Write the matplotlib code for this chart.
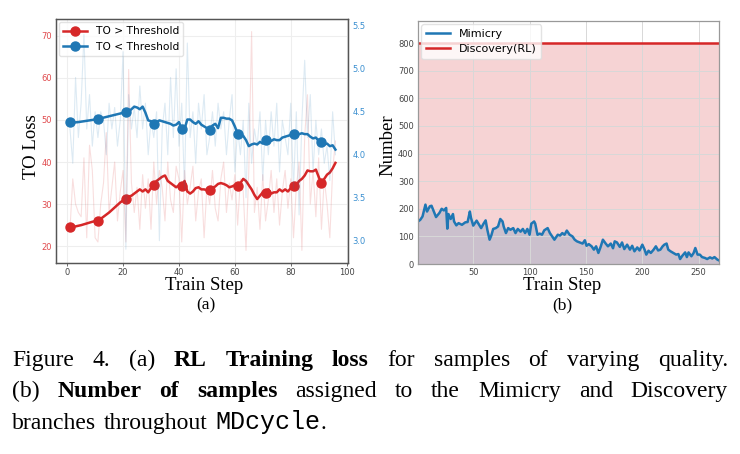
import numpy as np
import matplotlib
matplotlib.use("Agg")
import matplotlib.pyplot as plt

# ---- (a) TO loss, steps 1..96 ----
steps_a = np.arange(1, 97)

red_smooth = [24.5, 24.55, 24.7, 24.85, 25.0, 25.2, 25.4, 25.6, 25.8, 25.95,
              26.1, 26.5, 27.0, 27.5, 28.0, 28.6, 29.2, 29.8, 30.4, 30.9,
              31.3, 31.8, 32.0, 32.5, 33.0, 33.5, 33.0, 33.5, 32.8, 33.8,
              34.5, 35.5, 36.0, 36.5, 36.8, 35.5, 35.0, 34.5, 34.0, 34.5,
              34.2, 35.5, 33.0, 32.5, 33.0, 33.8, 34.0, 33.5, 33.5, 33.3,
              33.4, 33.8, 34.2, 34.8, 35.0, 34.8, 34.5, 34.0, 34.2, 34.5,
              34.2, 35.0, 36.0, 35.5, 34.5, 33.5, 32.2, 31.2, 32.0, 32.8,
              32.7, 33.5, 32.5, 32.8, 32.8, 33.5, 33.0, 33.5, 33.0, 33.8,
              34.2, 34.5, 35.5, 36.0, 36.8, 38.0, 37.8, 37.8, 38.2, 36.5,
              34.9, 36.0, 37.0, 37.5, 38.5, 39.8]

blue_smooth = [4.377, 4.377, 4.377, 4.38, 4.385, 4.39, 4.395, 4.40, 4.405, 4.41,
               4.415, 4.425, 4.432, 4.44, 4.448, 4.456, 4.464, 4.472, 4.48, 4.488,
               4.497, 4.50, 4.53, 4.56, 4.55, 4.53, 4.56, 4.49, 4.40, 4.39,
               4.357, 4.38, 4.40, 4.39, 4.38, 4.37, 4.36, 4.34, 4.35, 4.38,
               4.30, 4.30, 4.41, 4.41, 4.38, 4.36, 4.39, 4.35, 4.33, 4.31,
               4.29, 4.34, 4.36, 4.31, 4.43, 4.43, 4.42, 4.42, 4.40, 4.33,
               4.245, 4.24, 4.22, 4.17, 4.10, 4.12, 4.13, 4.12, 4.15, 4.13,
               4.167, 4.17, 4.16, 4.18, 4.17, 4.17, 4.20, 4.21, 4.22, 4.23,
               4.24, 4.25, 4.24, 4.25, 4.24, 4.24, 4.21, 4.19, 4.20, 4.16,
               4.15, 4.12, 4.13, 4.10, 4.11, 4.06]

red_raw = [24, 36, 30, 28, 27, 41, 22, 44, 38, 22,
           21, 30, 35, 47, 28, 34, 40, 26, 33, 38,
           21, 62, 35, 28, 34, 24, 37, 29, 36, 24,
           40, 30, 38, 34, 26, 40, 31, 28, 39, 36,
           21, 38, 30, 34, 39, 26, 33, 36, 22, 34,
           30, 38, 29, 26, 36, 40, 28, 35, 31, 37,
           25, 36, 33, 19, 38, 71, 28, 34, 24, 37,
           26, 31, 38, 28, 36, 25, 33, 38, 29, 36,
           22, 34, 40, 19, 46, 56, 30, 38, 27, 41,
           24, 36, 30, 22, 38, 45]

blue_raw = [4.3, 3.9, 4.9, 4.2, 4.6, 5.4, 4.3, 4.7, 4.1, 4.5,
            4.2, 4.5, 4.4, 4.0, 4.6, 4.3, 4.55, 4.1, 4.4, 5.2,
            2.9, 4.7, 4.3, 4.55, 4.2, 4.8, 4.3, 4.6, 4.0, 4.4,
            4.2, 4.5, 3.0, 4.3, 4.6, 4.0, 4.9, 4.2, 5.0, 4.1,
            4.6, 3.6, 5.3, 4.2, 4.5, 3.9, 4.6, 4.3, 4.7, 4.0,
            4.2, 4.5, 4.1, 4.6, 4.3, 4.5, 4.0, 4.4, 4.7, 3.8,
            4.3, 4.0, 4.4, 3.5, 4.6, 3.9, 4.3, 4.1, 4.5, 3.7,
            4.4, 4.0, 4.5, 4.1, 4.6, 3.8, 4.4, 4.2, 4.0, 4.6,
            3.6, 4.5, 3.3, 4.4, 5.1, 4.2, 4.7, 3.8, 4.4, 4.0,
            4.3, 3.9, 4.1, 3.7, 4.5, 4.0]

marker_every = 10

# ---- (b) number of samples ----
mim_steps = [1, 3, 5, 7.6, 9, 11.5, 13, 15, 17, 20, 22, 24, 26, 27, 28, 30, 32, 33,
             35, 37, 40, 43, 45, 47, 48, 50, 52, 53, 57, 59, 61, 62.5, 64.5, 66,
             67.7, 70, 72, 74, 76, 77, 79, 81, 83, 85.5, 87.5, 89.5, 92, 94, 96,
             98, 100, 101.5, 104, 105, 107, 109, 111, 113, 116, 118, 120, 122,
             125, 127, 129, 131, 133, 135.5, 138, 140, 142, 144.5, 147, 149,
             150.5, 152.5, 155, 157, 159, 161, 163, 165, 167.5, 169.5, 172, 174,
             175.5, 177.5, 180, 182, 184, 186.5, 189, 191, 193, 195.5, 197.5,
             200, 202, 203.5, 205.5, 207.5, 210, 212, 214, 216, 218, 219.5,
             221.5, 223, 225, 227.5, 230, 232, 233.5, 235.5, 238, 239.5, 241,
             243.5, 245.5, 247, 249, 251, 253, 255.5, 257.5, 260, 262, 264,
             266.5, 268]
mim_vals = [154, 160, 172, 215, 190, 209, 211, 190, 170, 185, 200, 194, 203, 128,
            181, 163, 181, 154, 140, 148, 142, 151, 152, 190, 167, 139, 151, 157,
            130, 145, 158, 124, 88, 103, 127, 130, 136, 163, 154, 136, 112, 130,
            124, 130, 112, 127, 117, 127, 112, 127, 106, 146, 154, 146, 106, 110,
            106, 122, 130, 112, 100, 88, 106, 103, 112, 106, 121, 106, 100, 88,
            82, 78, 74, 86, 66, 72, 64, 52, 64, 40, 62, 88, 74, 64, 74, 57, 82,
            78, 62, 78, 54, 70, 52, 66, 46, 60, 49, 70, 52, 34, 48, 40, 52, 64,
            49, 52, 64, 70, 74, 52, 46, 40, 34, 36, 18, 30, 42, 25, 42, 28, 40,
            58, 34, 34, 25, 22, 18, 24, 20, 25, 16, 13]
discovery_level = 800

RED = "#d62728"
BLUE = "#1f77b4"
SERIF = "Liberation Serif"

plt.rcParams["font.family"] = "DejaVu Sans"
fig = plt.figure(figsize=(7.4, 4.54), dpi=100)

# ---------------- (a) ----------------
ax = fig.add_axes([56 / 740, 1 - 263 / 454, 292 / 740, 244 / 454])
ax2 = ax.twinx()

ax.plot(steps_a, red_raw, color=RED, lw=0.8, alpha=0.15)
ax2.plot(steps_a, blue_raw, color=BLUE, lw=0.8, alpha=0.15)
l1, = ax.plot(steps_a, red_smooth, color=RED, lw=1.8, marker="o", ms=6.5,
              markevery=marker_every, label="TO > Threshold")
l2, = ax2.plot(steps_a, blue_smooth, color=BLUE, lw=1.8, marker="o", ms=6.5,
               markevery=marker_every, label="TO < Threshold")

ax.set_xlim(-4, 100.5)
ax.set_ylim(16, 74)
ax2.set_ylim(2.74, 5.58)
ax.set_xticks([0, 20, 40, 60, 80, 100])
ax.set_yticks([20, 30, 40, 50, 60, 70])
ax2.set_yticks([3.0, 3.5, 4.0, 4.5, 5.0, 5.5])
ax.grid(True, color="#eeeeee", lw=0.8)
ax.set_axisbelow(True)
ax.tick_params(axis="x", labelsize=6, colors="#555555", labelcolor="#444444",
               length=2, width=0.6, pad=1.5)
ax.tick_params(axis="y", labelsize=6, colors="#555555", labelcolor="#e04a4d",
               length=0, pad=3)
ax2.tick_params(axis="y", labelsize=6, colors="#555555", labelcolor="#3a8fd0",
                length=0, pad=3)
for a in (ax, ax2):
    for s in a.spines.values():
        s.set_color("#555555")
        s.set_linewidth(0.9)
ax.legend(handles=[l1, l2], loc="upper left", fontsize=7.7, framealpha=0.8,
          edgecolor="#dddddd", borderaxespad=0.3, handlelength=2.2)

fig.text(204 / 740, 1 - 285 / 454, "Train Step", family=SERIF, fontsize=13.5,
         ha="center", va="center")
fig.text(206 / 740, 1 - 305 / 454, "(a)", family=SERIF, fontsize=12.5,
         ha="center", va="center")
fig.text(32 / 740, 1 - 147 / 454, "TO Loss", family=SERIF, fontsize=13.5,
         ha="center", va="center", rotation=90)

# ---------------- (b) ----------------
bx = fig.add_axes([418 / 740, 1 - 264 / 454, 301 / 740, 243 / 454])
xs = [mim_steps[0], mim_steps[-1]]
bx.fill_between(xs, 0, discovery_level, color=RED, alpha=0.2, lw=0)
bx.fill_between(mim_steps, 0, mim_vals, color=BLUE, alpha=0.2, lw=0)
bx.plot(mim_steps, mim_vals, color=BLUE, lw=1.8, label="Mimicry")
bx.plot(xs, [discovery_level, discovery_level], color=RED, lw=1.8,
        label="Discovery(RL)")
bx.set_xlim(1, 268)
bx.set_ylim(0, 880)
bx.set_xticks([50, 100, 150, 200, 250])
bx.set_yticks(range(0, 801, 100))
bx.grid(True, color="#d8d8d8", lw=0.7)
bx.tick_params(labelsize=6, colors="#444444", length=0, pad=3)
for s in bx.spines.values():
    s.set_color("#999999")
    s.set_linewidth(0.9)
bx.legend(loc="upper left", fontsize=8, framealpha=0.8, edgecolor="#dddddd",
          borderaxespad=0.3, handlelength=2.2)

fig.text(562 / 740, 1 - 285 / 454, "Train Step", family=SERIF, fontsize=13.5,
         ha="center", va="center")
fig.text(562 / 740, 1 - 305 / 454, "(b)", family=SERIF, fontsize=12.5,
         ha="center", va="center")
fig.text(388 / 740, 1 - 145 / 454, "Number", family=SERIF, fontsize=13.5,
         ha="center", va="center", rotation=90)

# ---------------- caption (justified) ----------------
N, B, M = ("normal", SERIF), ("bold", SERIF), ("normal", "Liberation Mono")
lines = [
    ([("Figure", N), ("4.", N), ("(a)", N), ("RL", B), ("Training", B),
      ("loss", B), ("for", N), ("samples", N), ("of", N), ("varying", N),
      ("quality.", N)], 366, True),
    ([("(b)", N), ("Number", B), ("of", B), ("samples", B), ("assigned", N),
      ("to", N), ("the", N), ("Mimicry", N), ("and", N), ("Discovery", N)],
     397, True),
    ([("branches", N), ("throughout", N), ("MDcycle", M), (".", N)], 429, False),
]
cap_size = 17
x0, x1 = 12, 728
renderer = fig.canvas.get_renderer()
for words, ybase, justify in lines:
    texts = []
    for w, (weight, fam) in words:
        size = cap_size + 1 if fam == "Liberation Mono" else cap_size
        texts.append(fig.text(0, 1 - ybase / 454, w, family=fam, weight=weight,
                              fontsize=size, va="baseline", ha="left"))
    widths = [t.get_window_extent(renderer).width for t in texts]
    if justify:
        gap = (x1 - x0 - sum(widths)) / (len(texts) - 1)
    else:
        gap = cap_size * 0.45
    x = x0
    for i, t in enumerate(texts):
        if not justify and words[i][0] == ".":
            x -= gap
        t.set_x(x / 740)
        x += widths[i] + gap

fig.savefig("out.png", dpi=100)
